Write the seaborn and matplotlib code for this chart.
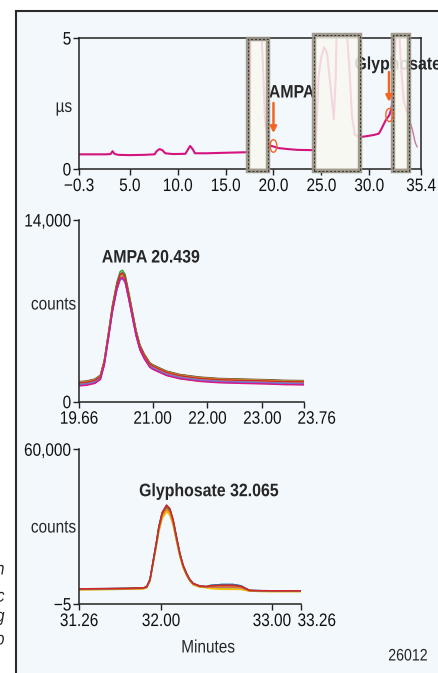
import numpy as np
import pandas as pd
import matplotlib
matplotlib.use("Agg")
import matplotlib.pyplot as plt
from matplotlib.patches import Rectangle, Ellipse
from matplotlib.patheffects import AbstractPathEffect
from matplotlib.transforms import Affine2D, ScaledTranslation
import seaborn as sns

sns.set_style("ticks")
plt.rcParams["font.family"] = ["Liberation Sans", "DejaVu Sans"]
plt.rcParams["axes.unicode_minus"] = True


class Narrow(AbstractPathEffect):
    """Draw text horizontally condensed about its left, centre or right edge."""

    def __init__(self, factor=0.85, anchor="center"):
        super().__init__()
        self.factor = factor
        self.anchor = anchor

    def draw_path(self, renderer, gc, tpath, affine, rgbFace=None):
        ext = tpath.get_extents()
        if self.anchor == "left":
            cx = ext.x0
        elif self.anchor == "right":
            cx = ext.x1
        else:
            cx = 0.5 * (ext.x0 + ext.x1)
        squeeze = Affine2D().translate(-cx, 0).scale(self.factor, 1).translate(cx, 0)
        renderer.draw_path(gc, tpath, squeeze + affine, rgbFace)


def narrow(text, anchor="center", factor=0.85):
    text.set_path_effects([Narrow(factor, anchor)])
    return text


# ---- Conductivity trace (µS) over the full run ----
cond_time = [-0.3, 1.0, 2.5, 3.0, 3.2, 3.4, 3.8, 5.0, 6.5, 7.6, 7.8, 8.1, 8.4, 8.7,
             9.5, 10.8, 11.0, 11.3, 11.6, 11.8, 13.0, 15.0, 17.2, 17.34, 17.5,
             17.6, 18.7, 18.9, 19.1, 19.4, 19.5, 20.0, 20.5, 21.5, 22.5, 24.0,
             24.4, 24.7, 25.0, 25.3, 25.6, 26.0, 26.3, 26.5, 26.6, 27.6, 27.9,
             28.2, 28.5, 29.0, 29.5, 30.5, 31.0, 31.3, 31.7, 32.1, 32.3, 32.6,
             32.8, 33.1, 33.3, 33.6, 34.0, 34.1, 34.5, 34.8, 35.0]
cond_us = [0.56, 0.56, 0.56, 0.57, 0.68, 0.58, 0.54, 0.53, 0.54, 0.56, 0.68, 0.76,
           0.72, 0.60, 0.57, 0.58, 0.70, 0.88, 0.74, 0.60, 0.60, 0.62, 0.64, 0.65,
           1.0, 5.5, 5.5, 4.0, 2.0, 0.95, 0.90, 0.86, 0.80, 0.76, 0.73, 0.72,
           0.8, 3.5, 4.3, 4.65, 4.4, 3.0, 1.9, 3.5, 5.5, 5.5, 4.0, 2.0, 1.3,
           1.22, 1.24, 1.30, 1.35, 1.55, 1.85, 2.06, 2.3, 3.0, 5.5, 5.5, 4.0,
           2.6, 2.1, 2.0, 1.5, 1.0, 0.84]
cut_start = [17.34, 24.2, 32.5]
cut_end = [19.4, 29.0, 34.1]
cut_top = [4.95, 5.12, 5.12]
top_ticks = [-0.3, 5.0, 10.0, 15.0, 20.0, 25.0, 30.0, 35.4]
top_ticklabels = ["\u22120.3", "5.0", "10.0", "15.0", "20.0", "25.0", "30.0", "35.4"]

# ---- AMPA chromatogram (counts), overlaid injections ----
ampa_time = [19.66, 19.80, 19.95, 20.05, 20.12, 20.20, 20.27, 20.35, 20.41, 20.45,
             20.50, 20.56, 20.63, 20.70, 20.77, 20.85, 20.95, 21.00, 21.10, 21.26,
             21.50, 21.86, 22.20, 22.60, 23.08, 23.40, 23.76]
ampa_profile = [1400, 1450, 1600, 1900, 3000, 5200, 7200, 8900, 9700, 9800,
                9500, 8300, 6800, 5300, 4200, 3500, 2850, 2700, 2500, 2200,
                1950, 1750, 1650, 1600, 1550, 1500, 1480]
ampa_apex = [9750, 9700, 10050, 9800, 9650, 9720, 9680, 9850, 9600, 9750]
ampa_shift = [120, 60, 80, 150, -40, 100, -60, 40, -120, -180]
ampa_colors = ["#1f77b4", "#ff7f0e", "#2ca02c", "#8c564b", "#17becf",
               "#bcbd22", "#9467bd", "#d62728", "#5b6ee1", "#e0157f"]

# ---- Glyphosate chromatogram (counts), overlaid injections ----
gly_time = [31.26, 31.50, 31.70, 31.84, 31.87, 31.90, 31.93, 31.96, 31.98, 32.01,
            32.05, 32.08, 32.11, 32.14, 32.17, 32.20, 32.23, 32.26, 32.29, 32.35,
            32.41, 32.45, 32.55, 32.65, 32.72, 32.80, 32.90, 33.00, 33.26]
gly_profile = [5900, 6000, 6100, 6300, 6700, 9500, 17000, 24500, 30000, 35500,
               38400, 37000, 32600, 26000, 19700, 15000, 11900, 9500, 8000, 7000,
               6800, 7100, 7300, 7300, 6900, 5300, 5200, 5150, 5150]
gly_bump = [0, 0, 0, 0, 0, 0, 0, 0, 0, 0, 0, 0, 0, 0, 0, 0, 0, 0, 0, 0,
            0, 0.6, 1.0, 1.0, 0.7, 0, 0, 0, 0]
gly_apex = [36500, 35800, 36000, 37800, 37200, 37600, 36800, 38300, 38000, 38400]
gly_bump_amp = [600, -900, -1200, 400, -600, 200, -300, 300, -100, 0]
gly_colors = ["#e377c2", "#bcbd22", "#ffbf00", "#17becf", "#9467bd",
              "#2ca02c", "#ff7f0e", "#1f77b4", "#8c564b", "#d62728"]

W, H = 439, 673
fig = plt.figure(figsize=(W / 100, H / 100), dpi=100, facecolor="white")

# Panel frame
fig.add_artist(Rectangle((16 / W, -0.05), 1.0, 1 - 11 / H + 0.05,
                         transform=fig.transFigure, facecolor="#f2f8fc",
                         edgecolor="#2b2b2b", lw=1.5, zorder=0))


def ax_rect(left, right, bottom, top):
    return [left / W, 1 - bottom / H, (right - left) / W, (bottom - top) / H]


ax1 = fig.add_axes(ax_rect(79, 421, 169, 38))
ax2 = fig.add_axes(ax_rect(79, 304, 401.7, 220))
ax3 = fig.add_axes(ax_rect(79, 300.7, 604, 449.3))

spine_c = "#222222"
for ax in (ax1, ax2, ax3):
    ax.set_facecolor("none")
    for s in ax.spines.values():
        s.set_color(spine_c)
        s.set_linewidth(1.1)
    ax.tick_params(axis="both", colors=spine_c, labelcolor="#111111",
                   labelsize=13, length=4, width=1.0, pad=1.5)
    ax.tick_params(axis="x", pad=2.5)

# ---- Top: conductivity ----
cond = pd.DataFrame({"t": cond_time, "us": cond_us})
main = cond[cond["t"] <= 34.1]
tail = cond[cond["t"] >= 34.1]
sns.lineplot(data=main, x="t", y="us", ax=ax1, color="#d4137f", lw=1.5,
             sort=False, zorder=2)
sns.lineplot(data=tail, x="t", y="us", ax=ax1, color="#c77aa6", lw=1.0,
             sort=False, zorder=2)
ax1.set_xlim(-0.3, 35.4)
ax1.set_ylim(0, 5)
ax1.set_xticks(top_ticks)
ax1.set_xticklabels(top_ticklabels)
ax1.set_yticks([0, 5])
ax1.set_yticklabels(["0", "5"])
ax1.set_xlabel("")
ax1.set_ylabel("\u00b5s", rotation=0, ha="right", va="center", fontsize=13)
ax1.yaxis.set_label_coords(-0.02, 0.47)

narrow(ax1.text(21.9, 2.9, "AMPA", fontsize=13, fontweight="bold", ha="center",
                va="center", zorder=3, clip_on=False), factor=0.88)
narrow(ax1.text(32.95, 3.97, "Glyphosate", fontsize=13, fontweight="bold",
                ha="center", va="center", zorder=3, clip_on=False), factor=0.88)

for x0, x1, yt in zip(cut_start, cut_end, cut_top):
    ax1.add_patch(Rectangle((x0, -0.08), x1 - x0, yt + 0.08, facecolor="#faf9f1",
                            alpha=0.85, edgecolor="none", zorder=4, clip_on=False))
    ax1.add_patch(Rectangle((x0, -0.08), x1 - x0, yt + 0.08, fill=False,
                            edgecolor="#9a9383", lw=3.2, alpha=0.9, zorder=4.1,
                            clip_on=False))
    ax1.add_patch(Rectangle((x0, -0.08), x1 - x0, yt + 0.08, fill=False,
                            edgecolor="#3a3a3a", lw=0.8, ls=(0, (2, 1.5)),
                            zorder=4.2, clip_on=False))

orange = "#f26522"
ax1.add_patch(Ellipse((20.0, 0.88), 0.7, 0.48, fill=False, edgecolor=orange,
                      lw=1.0, zorder=5))
ax1.add_patch(Ellipse((32.1, 2.06), 0.75, 0.5, fill=False, edgecolor=orange,
                      lw=1.0, zorder=5))
arrow = dict(arrowstyle="-|>", color=orange, lw=1.8, mutation_scale=9,
             shrinkA=0, shrinkB=0)
ax1.annotate("", xy=(20.0, 1.37), xytext=(20.0, 2.52), arrowprops=arrow,
             zorder=5)
ax1.annotate("", xy=(32.06, 2.56), xytext=(32.06, 3.70), arrowprops=arrow,
             zorder=5)

# ---- Middle: AMPA ----
rows = []
prof = np.array(ampa_profile, dtype=float)
for i, (apex, sh) in enumerate(zip(ampa_apex, ampa_shift)):
    vals = prof * apex / prof.max() + sh
    rows.append(pd.DataFrame({"t": ampa_time, "counts": vals, "run": i}))
ampa_df = pd.concat(rows)
sns.lineplot(data=ampa_df, x="t", y="counts", hue="run", palette=ampa_colors,
             ax=ax2, lw=1.0, legend=False, estimator=None)
ax2.set_xlim(19.66, 23.76)
ax2.set_ylim(0, 14000)
ax2.set_xticks([19.66, 21.0, 22.0, 23.0, 23.76])
ax2.set_xticklabels(["19.66", "21.00", "22.00", "23.00", "23.76"])
ax2.set_yticks([0, 14000])
ax2.set_yticklabels(["0", "14,000"])
ax2.spines["top"].set_visible(False)
ax2.spines["right"].set_visible(False)
ax2.set_xlabel("")
ax2.set_ylabel("counts", rotation=0, ha="right", va="center", fontsize=13)
ax2.yaxis.set_label_coords(-0.013, 0.532)
narrow(ax2.text(20.97, 11070, "AMPA 20.439", fontsize=13, fontweight="bold",
                ha="center", va="center"), factor=0.88)

# ---- Bottom: glyphosate ----
rows = []
gprof = np.array(gly_profile, dtype=float)
gb = np.array(gly_bump, dtype=float)
for i, (apex, ba) in enumerate(zip(gly_apex, gly_bump_amp)):
    vals = gprof * apex / gprof.max() + ba * gb
    rows.append(pd.DataFrame({"t": gly_time, "counts": vals, "run": i}))
gly_df = pd.concat(rows)
sns.lineplot(data=gly_df, x="t", y="counts", hue="run", palette=gly_colors,
             ax=ax3, lw=1.0, legend=False, estimator=None)
ax3.set_xlim(31.26, 33.26)
ax3.set_ylim(-5, 60000)
ax3.set_xticks([31.26, 32.0, 33.0, 33.26])
ax3.set_xticklabels(["31.26", "32.00", "33.00", "33.26"])
ax3.set_yticks([-5, 60000])
ax3.set_yticklabels(["\u22125", "60,000"])
ax3.spines["top"].set_visible(False)
ax3.spines["right"].set_visible(False)
ax3.set_xlabel("")
ax3.set_ylabel("counts", rotation=0, ha="right", va="center", fontsize=13)
ax3.yaxis.set_label_coords(-0.0135, 0.491)
narrow(ax3.text(32.43, 43560, "Glyphosate 32.065", fontsize=13,
                fontweight="bold", ha="center", va="center"), factor=0.88)

for ax in (ax1, ax2, ax3):
    for lbl in ax.get_xticklabels():
        narrow(lbl, "center")
    for lbl in ax.get_yticklabels():
        narrow(lbl, "right")
    narrow(ax.yaxis.label, "right")

# The end labels of the two chromatogram axes sit to the right of their ticks
for ax, dx_px in ((ax2, 12.5), (ax3, 16.0)):
    last = ax.get_xticklabels()[-1]
    last.set_transform(last.get_transform()
                       + ScaledTranslation(dx_px / 100, 0, fig.dpi_scale_trans))

narrow(fig.text(208 / W, 1 - 648 / H, "Minutes", fontsize=13, ha="center",
                va="center"))
narrow(fig.text(408 / W, 1 - 656 / H, "26012", fontsize=12, ha="center",
                va="center"))

# Ends of the neighbouring italic caption lines
for ch, y in zip(["n", "c", "g", "o"], [570, 597, 617, 640]):
    narrow(fig.text(4.5 / W, 1 - y / H, ch, fontsize=13, style="italic",
                    ha="right", va="center"), "right")

fig.savefig("out.png", dpi=100, facecolor="white")
